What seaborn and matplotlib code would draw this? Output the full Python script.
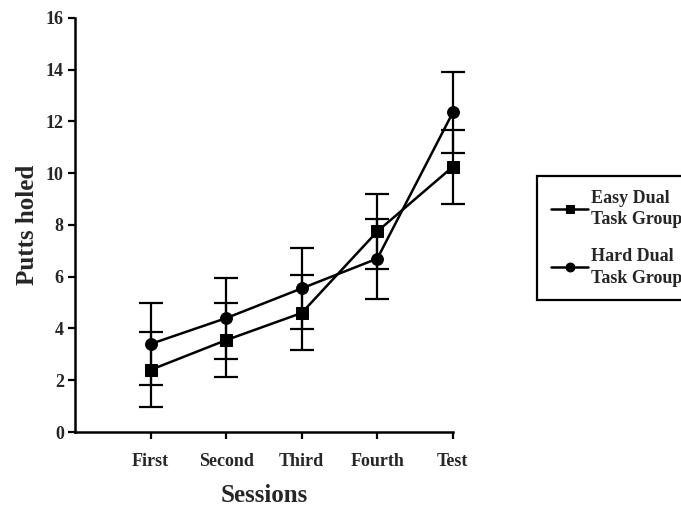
import numpy as np
import pandas as pd
import matplotlib
matplotlib.use("Agg")
import matplotlib.pyplot as plt
import seaborn as sns

# Mean putts holed per session, with error bar half-widths
sessions = ["First", "Second", "Third", "Fourth", "Test"]
easy_mean = [2.4, 3.55, 4.6, 7.75, 10.25]
easy_err = [1.45, 1.42, 1.45, 1.45, 1.42]
hard_mean = [3.4, 4.4, 5.55, 6.7, 12.35]
hard_err = [1.58, 1.56, 1.58, 1.55, 1.58]
group_labels = ["Easy Dual\nTask Group", "Hard Dual\nTask Group"]
y_ticks = [0, 2, 4, 6, 8, 10, 12, 14, 16]

sns.set_theme(style="white")
plt.rcParams["font.family"] = ["Liberation Serif", "DejaVu Serif"]
plt.rcParams["font.weight"] = "bold"

pos = np.arange(len(sessions))
df = pd.DataFrame({
    "pos": np.concatenate([pos, pos]),
    "putts": easy_mean + hard_mean,
    "group": [group_labels[0]] * len(sessions) + [group_labels[1]] * len(sessions),
})

fig = plt.figure(figsize=(6.81, 5.08), dpi=100)
ax = fig.add_axes([0.110, 0.1496, 0.555, 0.815])

sns.lineplot(
    data=df, x="pos", y="putts", hue="group", style="group",
    palette=["black", "black"], markers={group_labels[0]: "s", group_labels[1]: "o"},
    dashes=False, markersize=8.5, linewidth=1.8, markeredgecolor="black",
    ax=ax, legend=True, clip_on=False, zorder=3,
)

for mean, err in ((easy_mean, easy_err), (hard_mean, hard_err)):
    bars = ax.errorbar(pos, mean, yerr=err, fmt="none", ecolor="black",
                       elinewidth=1.6, capsize=8.5, capthick=1.6, zorder=2)
    for artist in bars.lines[1] + bars.lines[2]:
        artist.set_clip_on(False)

ax.set_xlim(-1, 4)
ax.set_ylim(0, 16)
ax.set_xticks(pos)
ax.set_xticklabels(sessions)
ax.set_yticks(y_ticks)
ax.tick_params(axis="both", which="both", direction="out", length=5, width=1.6,
               color="black", labelsize=13, bottom=True, left=True)
ax.tick_params(axis="x", pad=10)
ax.tick_params(axis="y", pad=3)
for lab in ax.get_xticklabels() + ax.get_yticklabels():
    lab.set_fontweight("bold")

for side in ("top", "right"):
    ax.spines[side].set_visible(False)
for side in ("left", "bottom"):
    ax.spines[side].set_color("black")
    ax.spines[side].set_linewidth(1.8)

ax.set_xlabel("Sessions", fontsize=18, fontweight="bold", labelpad=10)
ax.set_ylabel("Putts holed", fontsize=18, fontweight="bold", labelpad=5)

handles, labels = ax.get_legend_handles_labels()
leg = ax.legend(
    handles, labels, loc="upper left",
    bbox_to_anchor=(537 / 681, 1 - 176 / 508), bbox_transform=fig.transFigure,
    frameon=True, fancybox=False, edgecolor="black", framealpha=1,
    prop={"family": "Liberation Serif", "weight": "bold", "size": 13},
    handlelength=2.1, handletextpad=0.15, labelspacing=1.1,
    borderpad=0.75, borderaxespad=0, markerscale=0.75,
)
for txt in leg.get_texts():
    txt.set_linespacing(1.35)
leg.get_frame().set_linewidth(1.6)

fig.savefig("out.png", dpi=100)
